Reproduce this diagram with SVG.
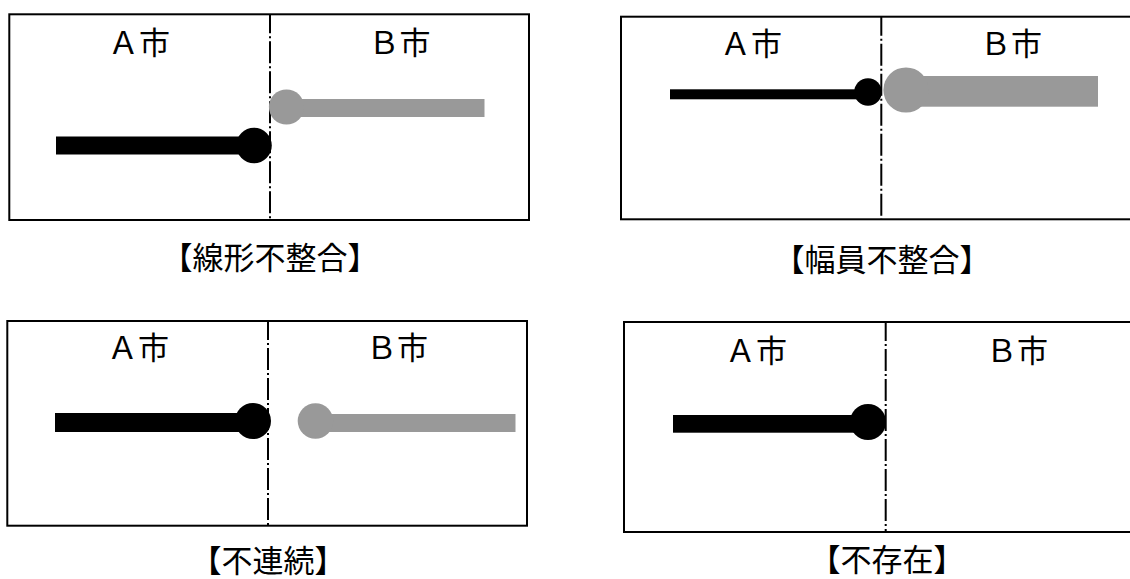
<svg xmlns="http://www.w3.org/2000/svg" width="1130" height="579" viewBox="0 0 1130 579">
<style>
.box{fill:#fff;stroke:#000;stroke-width:2}
.div{stroke:#000;stroke-width:2;stroke-dasharray:22 3 2 3;stroke-dashoffset:3}
.blk{fill:#000}
.gry{fill:#999}
.lbl{font-family:"Noto Sans CJK JP","Noto Sans",sans-serif;font-size:31px;text-anchor:middle;fill:#000}
.cap{font-family:"Noto Sans CJK JP",sans-serif;font-size:31px;text-anchor:middle;fill:#000}
</style>
<rect width="1130" height="579" fill="#fff"/>
<g id="panel-senkei">
<rect class="box" x="9.3" y="14.3" width="519.7" height="205.7"/>
<line class="div" x1="270" y1="14.3" x2="270" y2="220"/>
<text class="lbl" x="139" y="54">Ａ市</text>
<text class="lbl" x="399.5" y="54">Ｂ市</text>
<rect class="gry" x="286.5" y="99" width="198" height="18"/>
<circle class="gry" cx="286.5" cy="107" r="17.6"/>
<rect class="blk" x="56" y="136.5" width="198" height="18"/>
<circle class="blk" cx="254" cy="145.5" r="17.8"/>
<text class="cap" x="270" y="269">【線形不整合】</text>
</g>
<g id="panel-fukuin">
<rect class="box" x="621" y="16.7" width="519" height="202.6"/>
<line class="div" x1="881.3" y1="16.7" x2="881.3" y2="219.3"/>
<text class="lbl" x="751" y="55">Ａ市</text>
<text class="lbl" x="1011" y="55">Ｂ市</text>
<rect class="blk" x="670" y="89.3" width="198" height="10"/>
<circle class="blk" cx="868" cy="92" r="13.8"/>
<rect class="gry" x="906" y="76" width="192" height="30.7"/>
<circle class="gry" cx="906" cy="90" r="22.6"/>
<text class="cap" x="882" y="271">【幅員不整合】</text>
</g>
<g id="panel-furenzoku">
<rect class="box" x="7.3" y="321" width="519.7" height="204.7"/>
<line class="div" x1="268" y1="321" x2="268" y2="525.7"/>
<text class="lbl" x="138" y="359">Ａ市</text>
<text class="lbl" x="397" y="359">Ｂ市</text>
<rect class="blk" x="55" y="413" width="198" height="19"/>
<circle class="blk" cx="253" cy="421" r="18"/>
<rect class="gry" x="315.5" y="414" width="200" height="18"/>
<circle class="gry" cx="315.5" cy="421" r="17.8"/>
<text class="cap" x="268" y="572">【不連続】</text>
</g>
<g id="panel-fusonzai">
<rect class="box" x="624" y="322" width="524" height="210"/>
<line class="div" x1="885.7" y1="322" x2="885.7" y2="532"/>
<text class="lbl" x="756" y="362">Ａ市</text>
<text class="lbl" x="1017" y="362">Ｂ市</text>
<rect class="blk" x="673" y="415" width="195" height="17.7"/>
<circle class="blk" cx="868" cy="422" r="18"/>
<text class="cap" x="887" y="571">【不存在】</text>
</g>
<g id="connectors"/>
</svg>
